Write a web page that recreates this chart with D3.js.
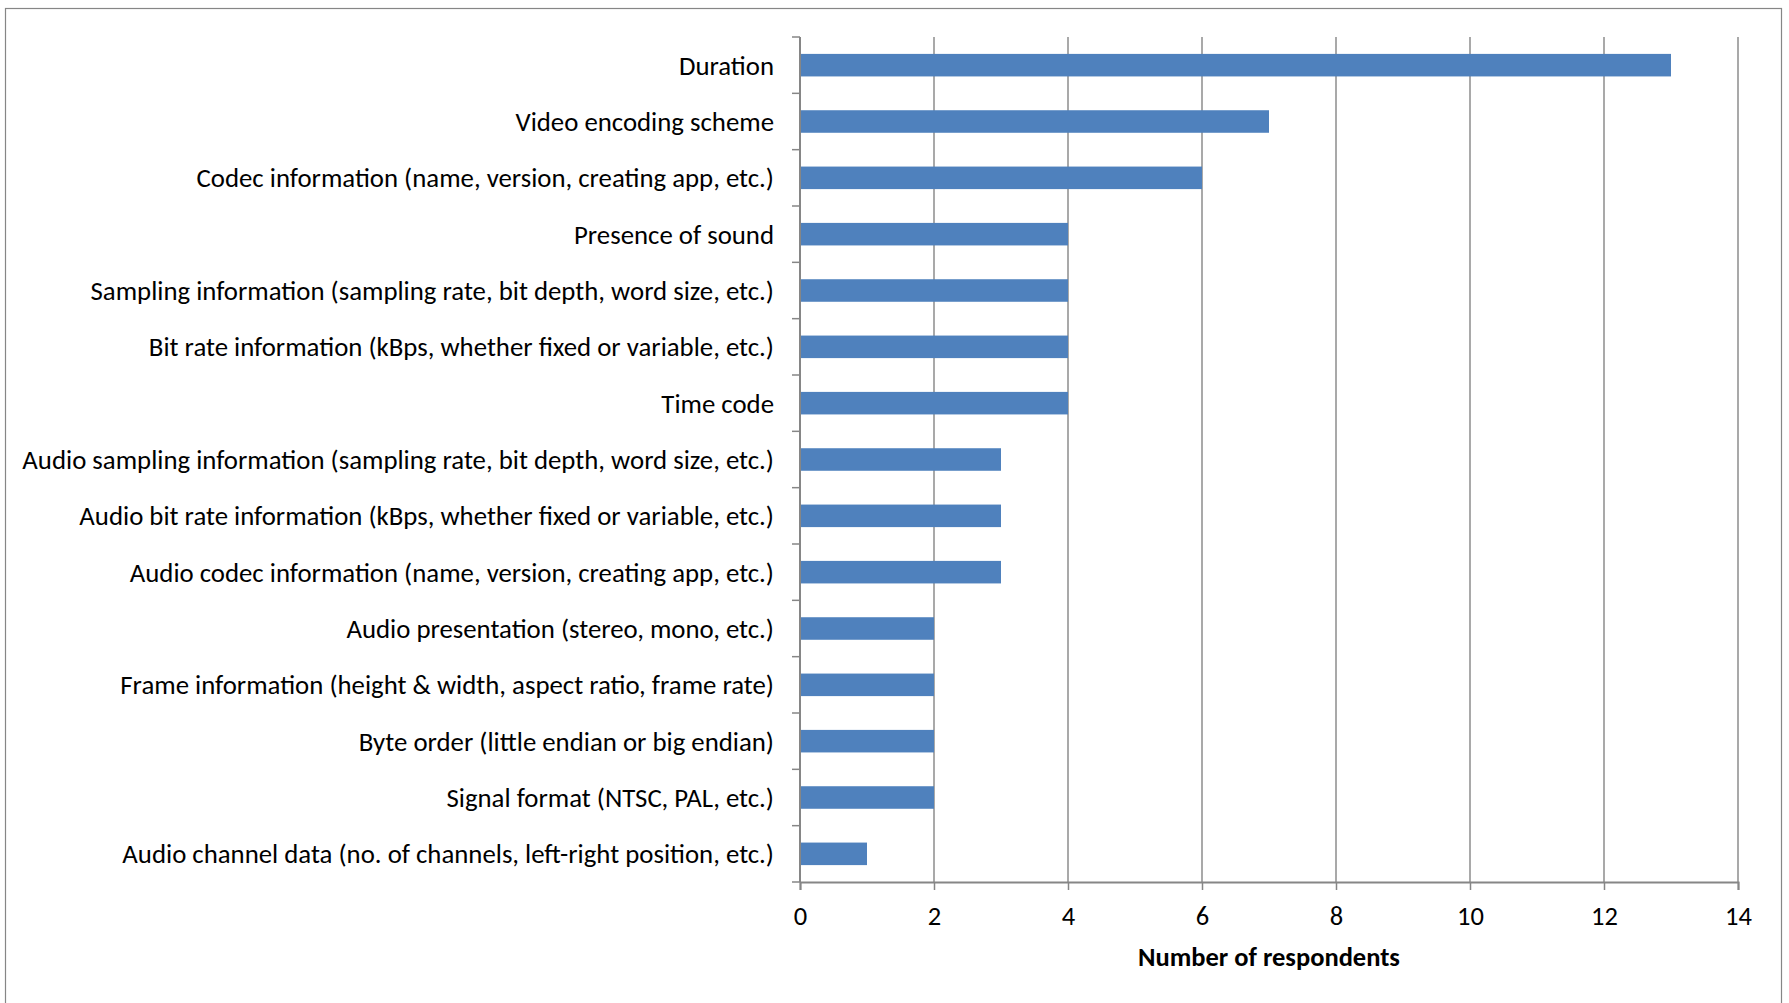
<!DOCTYPE html>
<html>
<head>
<meta charset="utf-8">
<script src="https://cdn.jsdelivr.net/npm/d3@7"></script>
<style>
  body { margin: 0; background: #fff; }
  svg text { font-family: Carlito, "Liberation Sans Narrow", "Open Sans", sans-serif; fill: #000; }
</style>
</head>
<body>
<div id="chart"></div>
<script>
// categories, top to bottom
var categories = [
    "Duration",
    "Video encoding scheme",
    "Codec information (name, version, creating app, etc.)",
    "Presence of sound",
    "Sampling information (sampling rate, bit depth, word size, etc.)",
    "Bit rate information (kBps, whether fixed or variable, etc.)",
    "Time code",
    "Audio sampling information (sampling rate, bit depth, word size, etc.)",
    "Audio bit rate information (kBps, whether fixed or variable, etc.)",
    "Audio codec information (name, version, creating app, etc.)",
    "Audio presentation (stereo, mono, etc.)",
    "Frame information (height & width, aspect ratio, frame rate)",
    "Byte order (little endian or big endian)",
    "Signal format (NTSC, PAL, etc.)",
    "Audio channel data (no. of channels, left-right position, etc.)"
];
var values = [13, 7, 6, 4, 4, 4, 4, 3, 3, 3, 2, 2, 2, 2, 1];
var x_ticks = [0, 2, 4, 6, 8, 10, 12, 14];
var x_title = "Number of respondents";

// --------------------------------------------------------
var chart_width  = 1789;
var chart_height = 1003;
var plot_left = 800, plot_right = 1738, plot_top = 37, plot_bottom = 882;

var svg = d3.select("#chart")
    .append("svg")
    .attr("width", chart_width)
    .attr("height", chart_height);

// outer chart border
svg.append("rect")
    .attr("x", 5.5).attr("y", 8.5)
    .attr("width", 1776).attr("height", 1010)
    .attr("fill", "none")
    .attr("stroke", "#868686")
    .attr("stroke-width", 1.2);

// --------------------------------------------------------
// scales
const x_scale = d3.scaleLinear()
    .domain([0, 14])
    .range([plot_left, plot_right]);

const y_scale = d3.scaleBand()
    .domain(categories)
    .range([plot_top, plot_bottom])
    .paddingInner(0.6)
    .paddingOuter(0.3);

const band_step = (plot_bottom - plot_top) / categories.length;

// gridlines
svg.append("g")
    .selectAll("line")
    .data(x_ticks.slice(1))
    .enter()
    .append("line")
    .attr("x1", (d) => x_scale(d))
    .attr("x2", (d) => x_scale(d))
    .attr("y1", plot_top)
    .attr("y2", plot_bottom)
    .attr("stroke", "#8c8c8c")
    .attr("stroke-width", 1.5);

// bars
svg.append("g")
    .selectAll("rect")
    .data(values)
    .enter()
    .append("rect")
    .attr("x", x_scale(0))
    .attr("y", (d, i) => y_scale(categories[i]))
    .attr("width", (d) => x_scale(d) - x_scale(0))
    .attr("height", y_scale.bandwidth())
    .attr("fill", "#4f81bd");

// --------------------------------------------------------
// x axis
const x_axis = d3.axisBottom(x_scale)
    .tickValues(x_ticks)
    .tickSize(8)
    .tickPadding(16)
    .tickFormat(d3.format("d"));

const gx = svg.append("g")
    .attr("class", "x-axis")
    .attr("transform", "translate(0," + plot_bottom + ")")
    .call(x_axis);
gx.select(".domain").attr("stroke", "#868686").attr("stroke-width", 2);
gx.selectAll(".tick line").attr("stroke", "#868686").attr("stroke-width", 1.5);
gx.selectAll(".tick text").attr("font-size", 26.5);

// y axis: tick marks at category boundaries
const gy = svg.append("g").attr("class", "y-axis");
gy.append("line")
    .attr("x1", plot_left).attr("x2", plot_left)
    .attr("y1", plot_top).attr("y2", plot_bottom)
    .attr("stroke", "#868686")
    .attr("stroke-width", 2);
gy.selectAll(".ytick")
    .data(d3.range(categories.length + 1))
    .enter()
    .append("line")
    .attr("class", "ytick")
    .attr("x1", plot_left - 8).attr("x2", plot_left)
    .attr("y1", (i) => plot_top + i * band_step)
    .attr("y2", (i) => plot_top + i * band_step)
    .attr("stroke", "#868686")
    .attr("stroke-width", 1.5);

// category labels
gy.selectAll(".ylabel")
    .data(categories)
    .enter()
    .append("text")
    .attr("class", "ylabel")
    .attr("x", plot_left - 26)
    .attr("y", (d) => y_scale(d) + y_scale.bandwidth() / 2)
    .attr("dy", "0.35em")
    .attr("text-anchor", "end")
    .attr("font-size", 26.8)
    .text((d) => d);

// axis title
svg.append("text")
    .attr("x", (plot_left + plot_right) / 2)
    .attr("y", 966)
    .attr("text-anchor", "middle")
    .attr("font-size", 26.5)
    .attr("font-weight", "bold")
    .text(x_title);
</script>
</body>
</html>
